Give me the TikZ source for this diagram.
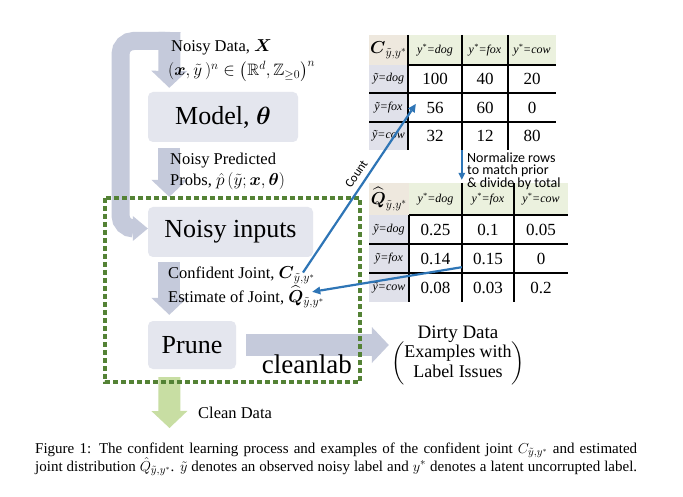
\documentclass[tikz,border=0pt]{standalone}
\usepackage{amsmath,amssymb}
\usepackage{fontspec}
\setmainfont{Liberation Serif}
\newfontfamily\notefont{Carlito}
\usetikzlibrary{arrows.meta}

\definecolor{flowgrey}{RGB}{197,202,219}
\definecolor{boxgrey}{RGB}{228,230,238}
\definecolor{labgreen}{RGB}{84,130,53}
\definecolor{cleangreen}{RGB}{200,222,163}
\definecolor{arrowblue}{RGB}{46,117,182}
\definecolor{hdrtan}{RGB}{238,232,222}
\definecolor{hdrgreen}{RGB}{235,241,222}
\definecolor{rowlav}{RGB}{224,225,234}

\newcommand{\ystar}[1]{{\itshape y\textsuperscript{*}=#1}}
\newcommand{\ytilde}[1]{{\itshape ỹ=#1}}

\tikzset{
  stagebox/.style={fill=boxgrey, rounded corners=5pt, inner sep=0pt, font=\fontsize{26}{30}\selectfont},
  flowlabel/.style={anchor=base west, inner sep=0pt, font=\fontsize{16.5}{20}\selectfont},
  flow/.style={draw=flowgrey, line width=22pt, -{Triangle[width=36pt,length=17pt,line width=0pt]}},
  loopflow/.style={draw=flowgrey, line width=18pt, rounded corners=13pt, -{Triangle[width=25pt,length=15pt,line width=0pt]}},
  labbox/.style={draw=labgreen, line width=4.5pt, dash pattern=on 5pt off 3pt},
  countarrow/.style={draw=arrowblue, line width=2.2pt, -{Triangle[width=8pt,length=8pt,line width=0pt]}},
  cell/.style={inner sep=0pt, font=\fontsize{17}{20}\selectfont},
  headcell/.style={inner sep=0pt, fill=hdrgreen, font=\fontsize{12}{14}\selectfont},
  sidecell/.style={inner sep=0pt, fill=rowlav, font=\fontsize{12}{14}\selectfont},
  cornercell/.style={inner sep=0pt, fill=hdrtan, font=\fontsize{18.5}{22}\selectfont},
  gridline/.style={line width=1.2pt},
  notetext/.style={font=\notefont\fontsize{14}{11.5}\selectfont, align=left, inner sep=0pt},
}

\begin{document}
\begin{tikzpicture}[x=1pt,y=-1pt]
    \fill[white] (0,0) rectangle (683,497);

    % pipeline
    \node[stagebox, minimum width=150pt, minimum height=50pt] (model) at (223,117) {Model, $\boldsymbol{\theta}$};
    \node[stagebox, minimum width=165pt, minimum height=50pt] (inputs) at (230.5,232) {Noisy inputs};
    \node[stagebox, minimum width=88pt, minimum height=48pt] (prune) at (192,345) {Prune};
    \coordinate (cleanend) at (169.5,428);

    \draw[loopflow] (165,41) -- (120.5,41) -- (120.5,228.5) -- ([yshift=3.5pt]inputs.west);
    \draw[flow] (169.5,32) -- ([xshift=21.5pt,yshift=4pt]model.north west);
    \draw[flow] ([xshift=21.5pt,yshift=-6pt]model.south west) -- ([xshift=21.5pt,yshift=10pt]inputs.north west);
    \draw[flow] ([xshift=21.5pt,yshift=-5pt]inputs.south west) -- ([xshift=21.5pt,yshift=6pt]prune.north west);
    \draw[flow, draw=cleangreen] ([xshift=21.5pt,yshift=-8pt]prune.south west) -- (cleanend);

    \node[flowlabel] (data) at (171,52) {Noisy Data, $\boldsymbol{X}$};
    \node[flowlabel] (space) at (168,76) {$(\boldsymbol{x},\tilde{y}\,)^{n}\in\left(\mathbb{R}^{d},\mathbb{Z}_{\geq 0}\right)^{n}$};
    \node[flowlabel] (noisy) at (170,165) {Noisy Predicted};
    \node[flowlabel] (probs) at (170,186) {Probs, $\hat{p}\,(\tilde{y};\boldsymbol{x},\boldsymbol{\theta})$};
    \node[flowlabel] (conf) at (168,279) {Confident Joint, $\boldsymbol{C}_{\tilde{y},y^{*}}$};
    \node[flowlabel] (est) at (168,302) {Estimate of Joint, $\widehat{\boldsymbol{Q}}_{\tilde{y},y^{*}}$};
    \node[flowlabel] (clean) at (198,418) {Clean Data};

    \node[font=\fontsize{19}{22}\selectfont, anchor=base, inner sep=0pt] (dirty) at (458,338) {Dirty Data};
    \node[font=\fontsize{18}{20}\selectfont, anchor=north, inner sep=0pt] (issues) at (458,342)
        {$\left(\text{\begin{tabular}{@{}c@{}}Examples with\\ Label Issues\end{tabular}}\right)$};
    \draw[flow] ([xshift=10pt]prune.east) -- ([xshift=-2pt]prune.east -| issues.west);

    \draw[labbox] (105,198) rectangle (360,382);
    \node[anchor=base east, inner sep=0pt, font=\fontsize{27}{30}\selectfont] (lab) at (352,373) {cleanlab};

    % confident joint table
    \node[cornercell, minimum width=39pt, minimum height=30pt] (c-0-0) at (388.5,50) {$\boldsymbol{C}_{\tilde{y},y^{*}}$};
    \foreach \x/\w/\lab [count=\j] in {435/54/dog, 485/46/fox, 532/48/cow}
        \node[headcell, minimum width=\w pt, minimum height=30pt] (c-0-\j) at (\x,50) {\ystar{\lab}};
    \foreach \y/\h/\lab/\va/\vb/\vc [count=\i] in {79/28/dog/100/40/20, 107.5/29/fox/56/60/0, 136/28/cow/32/12/80}{
        \node[sidecell, minimum width=39pt, minimum height=\h pt] (c-\i-0) at (388.5,\y) {\ytilde{\lab}};
        \node[cell, minimum width=54pt, minimum height=\h pt] (c-\i-1) at (435,\y) {\va};
        \node[cell, minimum width=46pt, minimum height=\h pt] (c-\i-2) at (485,\y) {\vb};
        \node[cell, minimum width=48pt, minimum height=\h pt] (c-\i-3) at (532,\y) {\vc};
    }
    \foreach \x in {408,462,508} \draw[gridline] (\x,35) -- (\x,150);
    \draw[gridline] (408,65) -- (556,65);
    \foreach \y in {93,122} \draw[gridline] (369,\y) -- (556,\y);

    % estimated joint table
    \node[cornercell, minimum width=40pt, minimum height=32pt] (q-0-0) at (389,199) {$\widehat{\boldsymbol{Q}}_{\tilde{y},y^{*}}$};
    \foreach \x/\w/\lab [count=\j] in {435.5/53/dog, 488/52/fox, 541/54/cow}
        \node[headcell, minimum width=\w pt, minimum height=32pt] (q-0-\j) at (\x,199) {\ystar{\lab}};
    \foreach \y/\h/\lab/\va/\vb/\vc [count=\i] in {229.5/29/dog/0.25/0.1/0.05, 258.5/29/fox/0.14/0.15/0, 287.5/29/cow/0.08/0.03/0.2}{
        \node[sidecell, minimum width=40pt, minimum height=\h pt] (q-\i-0) at (389,\y) {\ytilde{\lab}};
        \node[cell, minimum width=53pt, minimum height=\h pt] (q-\i-1) at (435.5,\y) {\va};
        \node[cell, minimum width=52pt, minimum height=\h pt] (q-\i-2) at (488,\y) {\vb};
        \node[cell, minimum width=54pt, minimum height=\h pt] (q-\i-3) at (541,\y) {\vc};
    }
    \draw[gridline] (409,215) -- (409,302);
    \foreach \x in {462,514} \draw[gridline] (\x,183) -- (\x,302);
    \draw[gridline] (409,215) -- (568,215);
    \foreach \y in {244,273} \draw[gridline] (369,\y) -- (568,\y);

    % blue arrows
    \draw[countarrow] ([xshift=-12pt,yshift=3pt]conf.east) -- ([xshift=8pt,yshift=3.5pt]c-2-1.west)
        node[pos=0.55, sloped, above=2pt, font=\notefont\fontsize{12.5}{14}\selectfont, text=black] {Count};
    \draw[countarrow] ([yshift=6pt]q-2-2.south west) -- ([xshift=-12pt,yshift=5pt]est.east);
    \draw[draw=arrowblue, line width=2pt, -{Triangle[width=7pt,length=7pt,line width=0pt]}] (c-3-2.south west) -- ([yshift=3pt]q-0-2.north west);
    \node[notetext, anchor=north west] (norm) at (467,153) {Normalize rows\\ to match prior\\ \& divide by total};

    % caption
    \node[anchor=base west, inner sep=0pt, font=\fontsize{15}{18}\selectfont] (cap1) at (35,453)
        {\makebox[602pt][s]{Figure 1: The confident learning process and examples of the confident joint $C_{\tilde{y},y^{*}}$ and estimated}};
    \node[anchor=base west, inner sep=0pt, font=\fontsize{15}{18}\selectfont] (cap2) at (35,471)
        {\makebox[602pt][s]{joint distribution $\hat{Q}_{\tilde{y},y^{*}}$. $\tilde{y}$ denotes an observed noisy label and $y^{*}$ denotes a latent uncorrupted label.}};
\end{tikzpicture}
\end{document}
